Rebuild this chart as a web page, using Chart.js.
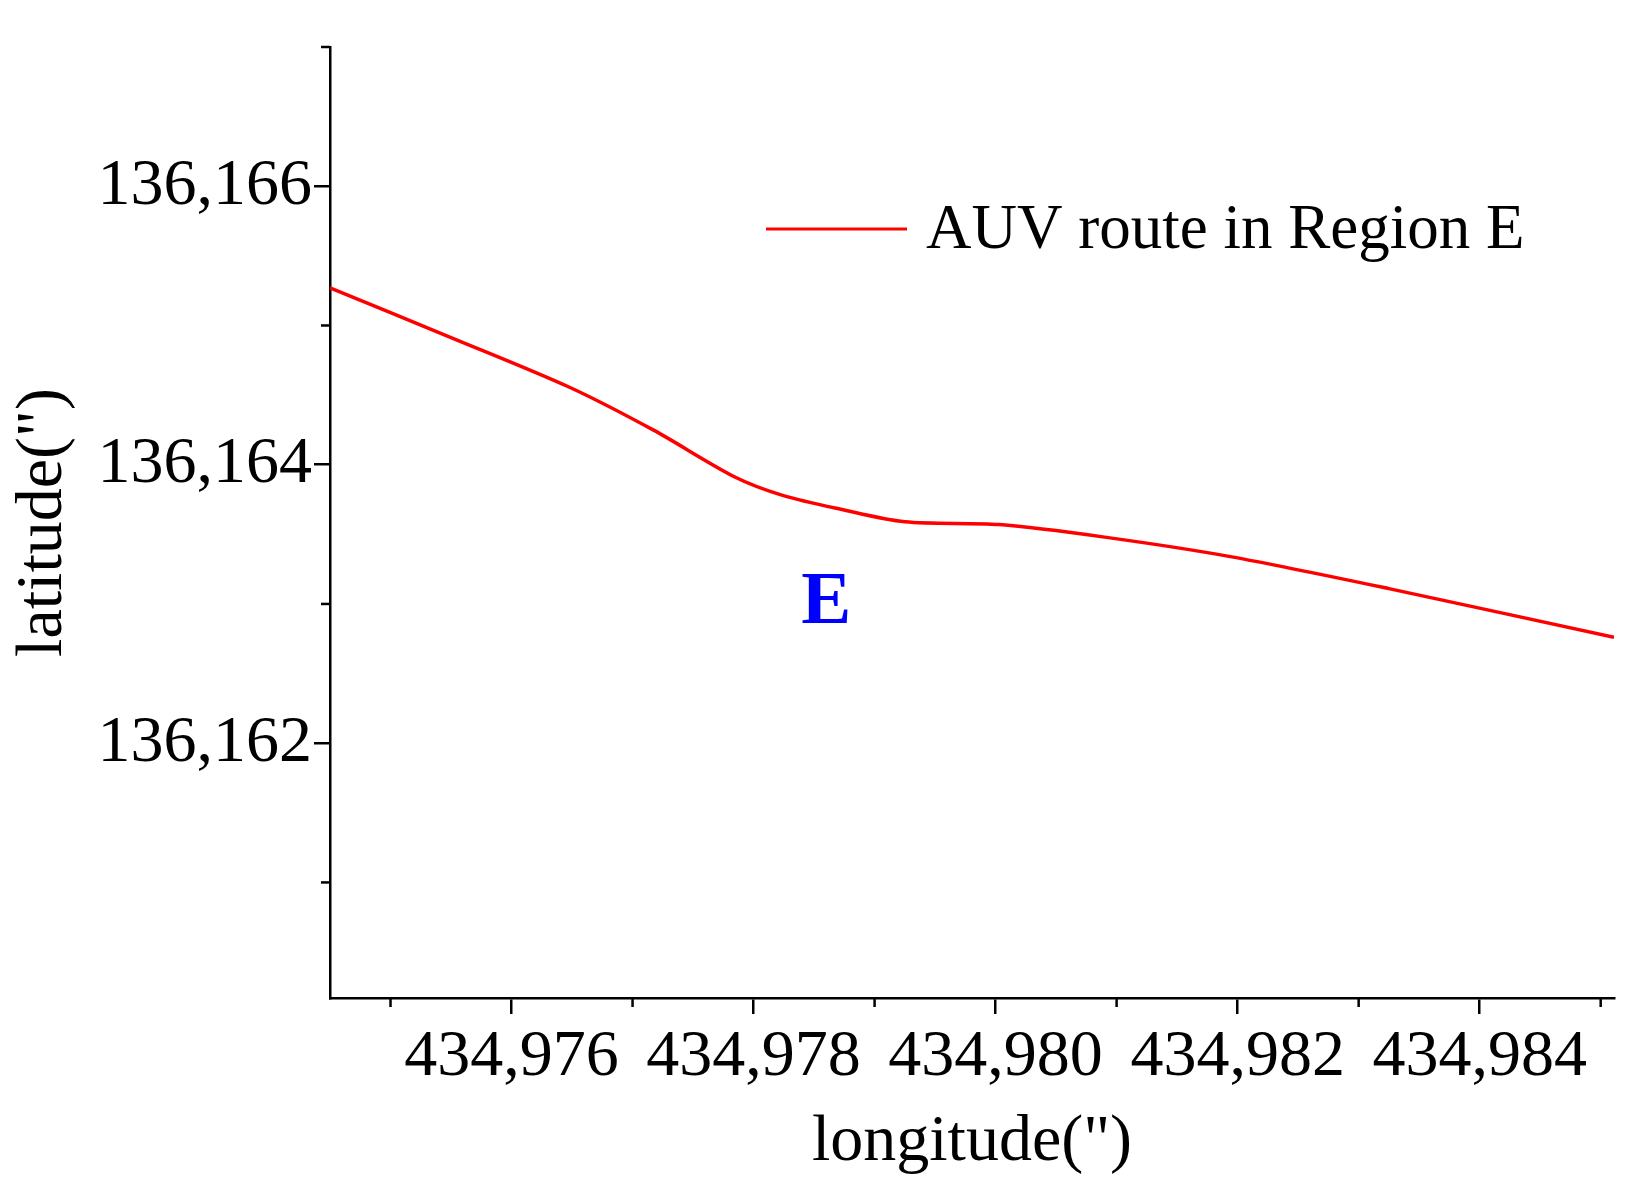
<!DOCTYPE html>
<html>
<head>
<meta charset="utf-8">
<script src="https://cdn.jsdelivr.net/npm/chart.js@4/dist/chart.umd.min.js"></script>
<style>
  html, body { margin: 0; padding: 0; background: #fff; }
  #wrap { width: 1641px; height: 1186px; }
</style>
</head>
<body>
<div id="wrap"><canvas id="routeChart"></canvas></div>
<script>
const longitude = [434974.5, 434975.51, 434976.47, 434977.17, 434977.85, 434978.24, 434978.72,
                   434979.25, 434980.03, 434980.9, 434981.94, 434983.25, 434985.11];
const latitude = [136165.27, 136164.91, 136164.56, 136164.25, 136163.91, 136163.78, 136163.68,
                  136163.59, 136163.57, 136163.48, 136163.34, 136163.11, 136162.76];
const xTicks = [434976, 434978, 434980, 434982, 434984];
const xMinorTicks = [434975, 434977, 434979, 434981, 434983, 434985];
const yTicks = [136162, 136164, 136166];
const yMinorTicks = [136161, 136163, 136165];
const seriesName = 'AUV route in Region E';
const regionLabel = { text: 'E', x: 434978.6, y: 136163.0 };

const serif = '"Liberation Serif", "Times New Roman", serif';

const extrasPlugin = {
    id: 'extras',
    afterDraw(chart) {
        const ctx = chart.ctx;
        const xs = chart.scales.x, ys = chart.scales.y;
        ctx.save();
        ctx.strokeStyle = '#000';
        ctx.lineWidth = 2.5;
        // minor ticks
        xMinorTicks.forEach(v => {
            const px = xs.getPixelForValue(v);
            ctx.beginPath(); ctx.moveTo(px, xs.top); ctx.lineTo(px, xs.top + 9); ctx.stroke();
        });
        yMinorTicks.forEach(v => {
            const py = ys.getPixelForValue(v);
            ctx.beginPath(); ctx.moveTo(ys.right, py); ctx.lineTo(ys.right - 9, py); ctx.stroke();
        });
        ctx.beginPath(); ctx.moveTo(ys.right, ys.top); ctx.lineTo(ys.right - 9, ys.top); ctx.stroke();
        // legend
        ctx.strokeStyle = '#ff0000';
        ctx.lineWidth = 3;
        ctx.beginPath(); ctx.moveTo(766, 229); ctx.lineTo(907, 229); ctx.stroke();
        ctx.fillStyle = '#000';
        ctx.font = '63px ' + serif;
        ctx.textBaseline = 'middle';
        ctx.fillText(seriesName, 926, 231);
        // region label
        ctx.fillStyle = '#0000ff';
        ctx.font = 'bold 75px ' + serif;
        ctx.textAlign = 'center';
        ctx.fillText(regionLabel.text, xs.getPixelForValue(regionLabel.x), ys.getPixelForValue(regionLabel.y));
        ctx.restore();
    }
};

new Chart(document.getElementById('routeChart'), {
    type: 'line',
    data: {
        datasets: [{
            label: seriesName,
            data: longitude.map((x, i) => ({ x: x, y: latitude[i] })),
            borderColor: '#ff0000',
            borderWidth: 3.5,
            pointRadius: 0,
            tension: 0.3,
            fill: false
        }]
    },
    options: {
        responsive: true,
        maintainAspectRatio: false,
        animation: false,
        layout: { padding: { top: 47, right: 27 } },
        plugins: { legend: { display: false }, tooltip: { enabled: false } },
        scales: {
            x: {
                type: 'linear',
                min: 434974.5,
                max: 434985.11,
                afterBuildTicks: s => { s.ticks = xTicks.map(v => ({ value: v })); },
                afterFit: s => { s.height = 188; },
                border: { color: '#000', width: 2.5 },
                grid: { drawOnChartArea: false, color: '#000', lineWidth: 2.5, tickLength: 16 },
                ticks: {
                    color: '#000',
                    font: { family: serif, size: 66 },
                    maxRotation: 0,
                    padding: 4,
                    callback: v => v.toLocaleString('en-US')
                },
                title: {
                    display: true,
                    text: 'longitude(")',
                    color: '#000',
                    font: { family: serif, size: 66 },
                    padding: { top: 0 }
                }
            },
            y: {
                type: 'linear',
                min: 136160.17,
                max: 136167.0,
                afterBuildTicks: s => { s.ticks = yTicks.map(v => ({ value: v })); },
                afterFit: s => { s.width = 330; },
                border: { color: '#000', width: 2.5 },
                grid: { drawOnChartArea: false, color: '#000', lineWidth: 2.5, tickLength: 16 },
                ticks: {
                    color: '#000',
                    font: { family: serif, size: 66 },
                    padding: 2,
                    callback: v => v.toLocaleString('en-US')
                },
                title: {
                    display: true,
                    text: 'latitude(")',
                    color: '#000',
                    font: { family: serif, size: 66 },
                    padding: { bottom: 0 }
                }
            }
        }
    },
    plugins: [extrasPlugin]
});
</script>
</body>
</html>
